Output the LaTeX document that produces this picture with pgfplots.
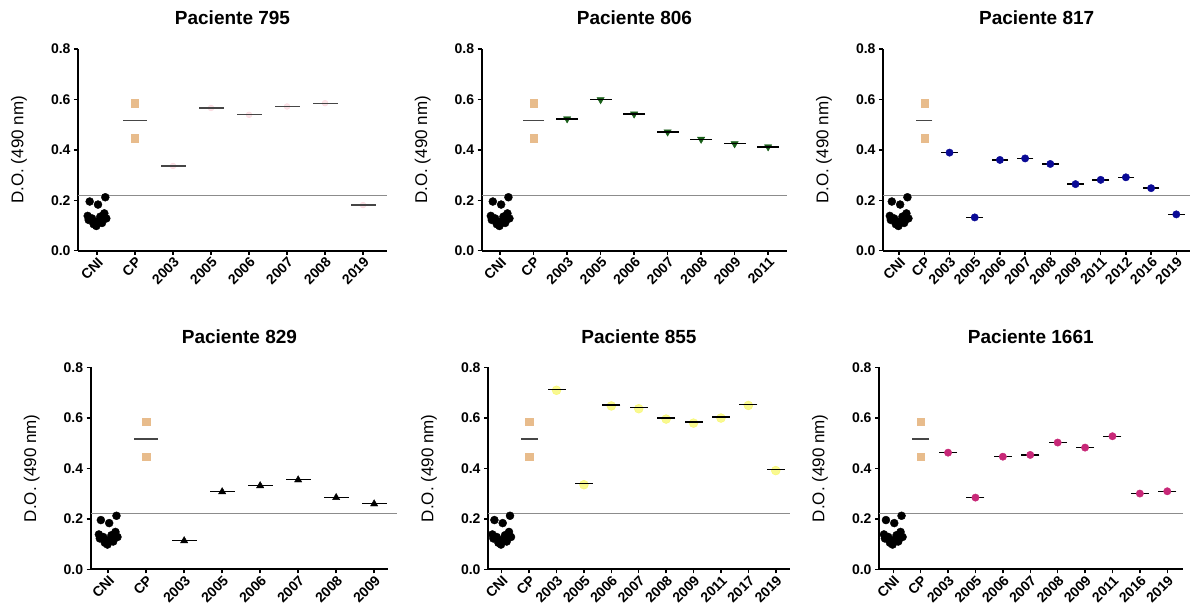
\documentclass[border=0pt]{standalone}
\usepackage{pgfplots}
\pgfplotsset{compat=1.18}
\usepackage{pgfplotstable}
\usepackage{fontspec}
\setmainfont{Liberation Sans}

\definecolor{cpcol}{RGB}{232,188,140}
\definecolor{grn}{RGB}{25,95,25}
\definecolor{navy}{RGB}{10,10,150}
\definecolor{mag}{RGB}{200,40,120}
\definecolor{yel}{RGB}{245,245,70}
\definecolor{pnk}{RGB}{245,165,180}
\definecolor{thr}{RGB}{140,140,140}
\definecolor{meangray}{RGB}{70,70,70}

% control groups, shared by all panels (dx in px from the CNI tick)
\pgfplotstableread{
dx y
-7.3 0.195
1.0 0.183
8.3 0.212
-9.3 0.138
7.3 0.148
-5.0 0.128
0.0 0.115
-0.7 0.098
-8.3 0.122
9.3 0.128
3.3 0.135
5.0 0.110
-3.3 0.105
}\cni
\pgfplotstableread{
x y
1 0.585
1 0.446
}\cp

% patients: x = category index
\pgfplotstableread{
x y
2 0.336
3 0.566
4 0.539
5 0.572
6 0.585
7 0.181
}\pA
\pgfplotstableread{
x y
2 0.523
3 0.599
4 0.542
5 0.471
6 0.442
7 0.424
8 0.412
}\pB
\pgfplotstableread{
x y
2 0.389
3 0.132
4 0.360
5 0.366
6 0.344
7 0.264
8 0.281
9 0.291
10 0.248
11 0.144
}\pC
\pgfplotstableread{
x y
2 0.113
3 0.307
4 0.331
5 0.354
6 0.284
7 0.259
}\pD
\pgfplotstableread{
x y
2 0.713
3 0.339
4 0.651
5 0.640
6 0.599
7 0.583
8 0.603
9 0.653
10 0.395
}\pE
\pgfplotstableread{
x y
2 0.462
3 0.284
4 0.446
5 0.453
6 0.502
7 0.482
8 0.527
9 0.300
10 0.309
}\pF

\pgfplotsset{
  panel/.style={
    scale only axis, anchor=south west,
    ymin=0, ymax=0.8, ytick={0,0.2,0.4,0.6,0.8},
    axis x line*=bottom, axis y line*=left,
    axis line style={line width=1.8pt},
    tick align=outside, major tick length=4pt,
    every tick/.style={line width=1.5pt, black},
    yticklabel style={font=\fontsize{14}{16}\selectfont\bfseries,
      /pgf/number format/.cd, fixed, fixed zerofill, precision=1, assume math mode=true},
    xticklabel style={font=\fontsize{14}{16}\selectfont\bfseries, rotate=45, anchor=north east, inner sep=1pt},
    every axis title/.style={font=\fontsize{19}{21}\selectfont\bfseries, at={(0.5,1)}, anchor=base, yshift=24pt},
    every axis y label/.style={at={(axis description cs:0,0.5)}, xshift=-59pt, rotate=90, anchor=center,
      font=\fontsize{17}{19}\selectfont},
    ylabel={D.O. (490 nm)},
    clip=false,
  },
  cnimark/.style={only marks, mark=*, mark size=4pt, color=black},
  cpmark/.style={only marks, mark=square*, mark size=3.6pt, color=cpcol},
  meanline/.style={only marks, mark=-, mark size=#1, mark options={line width=1.4pt}},
}

\begin{document}
\begin{tikzpicture}
\path[use as bounding box] (0,0) rectangle (1196pt,610pt);

% Paciente 795
\begin{axis}[panel, at={(78pt,359.3pt)}, width=309pt, height=201.7pt,
  xmin=-0.5, xmax=7.63, xtick={0,...,7},
  xticklabels={CNI,CP,2003,2005,2006,2007,2008,2019}, title={Paciente 795}]
\addplot[thr, line width=1pt] coordinates {(-0.5,0.22) (7.63,0.22)};
\addplot[cnimark] table[x expr=\thisrow{dx}/38, y=y] {\cni};
\addplot[cpmark] table {\cp};
\addplot[meanline=11.7pt, color=meangray] coordinates {(1,0.516)};
\addplot[only marks, mark=*, mark size=3pt, color=pnk, opacity=0.3] table {\pA};
\addplot[meanline=12.5pt, color=meangray] table {\pA};
\end{axis}

% Paciente 806
\begin{axis}[panel, at={(481.7pt,359.3pt)}, width=305.5pt, height=201.7pt,
  xmin=-0.55, xmax=8.57, xtick={0,...,8},
  xticklabels={CNI,CP,2003,2005,2006,2007,2008,2009,2011}, title={Paciente 806}]
\addplot[thr, line width=1pt] coordinates {(-0.55,0.22) (8.57,0.22)};
\addplot[cnimark] table[x expr=\thisrow{dx}/33.5, y=y] {\cni};
\addplot[cpmark] table {\cp};
\addplot[meanline=10.5pt, color=meangray] coordinates {(1,0.516)};
\addplot[only marks, mark=triangle*, mark size=4.2pt, color=grn, mark options={rotate=180}] table {\pB};
\addplot[meanline=11pt, color=black] table {\pB};
\end{axis}

% Paciente 817
\begin{axis}[panel, at={(883pt,359.3pt)}, width=307.4pt, height=201.7pt,
  xmin=-0.64, xmax=11.56, xtick={0,...,11},
  xticklabels={CNI,CP,2003,2005,2006,2007,2008,2009,2011,2012,2016,2019}, title={Paciente 817}]
\addplot[thr, line width=1pt] coordinates {(-0.64,0.22) (11.56,0.22)};
\addplot[cnimark] table[x expr=\thisrow{dx}/25.2, y=y] {\cni};
\addplot[cpmark] table {\cp};
\addplot[meanline=8pt, color=meangray] coordinates {(1,0.516)};
\addplot[meanline=8.3pt, color=black] table {\pC};
\addplot[only marks, mark=*, mark size=3.7pt, color=navy] table {\pC};
\end{axis}

% Paciente 829
\begin{axis}[panel, at={(90.7pt,40.7pt)}, width=297.5pt, height=202pt,
  xmin=-0.46, xmax=7.37, xtick={0,...,7},
  xticklabels={CNI,CP,2003,2005,2006,2007,2008,2009}, title={Paciente 829}]
\addplot[thr, line width=1pt] coordinates {(-0.46,0.22) (7.6,0.22)};
\addplot[cnimark] table[x expr=\thisrow{dx}/38, y=y] {\cni};
\addplot[cpmark] table {\cp};
\addplot[meanline=11.7pt, color=meangray] coordinates {(1,0.516)};
\addplot[meanline=12.5pt, color=black, mark options={line width=1.1pt}] table {\pD};
\addplot[only marks, mark=triangle*, mark size=4.2pt, color=black] table {\pD};
\end{axis}

% Paciente 855
\begin{axis}[panel, at={(488pt,40.7pt)}, width=302pt, height=202pt,
  xmin=-0.5, xmax=10.52, xtick={0,...,10},
  xticklabels={CNI,CP,2003,2005,2006,2007,2008,2009,2011,2017,2019}, title={Paciente 855}]
\addplot[thr, line width=1pt] coordinates {(-0.5,0.22) (10.52,0.22)};
\addplot[cnimark] table[x expr=\thisrow{dx}/27.4, y=y] {\cni};
\addplot[cpmark] table {\cp};
\addplot[meanline=8.5pt, color=meangray] coordinates {(1,0.516)};
\addplot[only marks, mark=*, mark size=4.5pt, color=yel, opacity=0.6] table[y expr=\thisrow{y}-0.004] {\pE};
\addplot[meanline=9pt, color=black] table {\pE};
\end{axis}

% Paciente 1661
\begin{axis}[panel, at={(879pt,40.7pt)}, width=303.6pt, height=202pt,
  xmin=-0.52, xmax=10.56, xtick={0,...,10},
  xticklabels={CNI,CP,2003,2005,2006,2007,2008,2009,2011,2016,2019}, title={Paciente 1661}]
\addplot[thr, line width=1pt] coordinates {(-0.52,0.22) (10.56,0.22)};
\addplot[cnimark] table[x expr=\thisrow{dx}/27.4, y=y] {\cni};
\addplot[cpmark] table {\cp};
\addplot[meanline=8.5pt, color=meangray] coordinates {(1,0.516)};
\addplot[meanline=9pt, color=black] table {\pF};
\addplot[only marks, mark=*, mark size=3.7pt, color=mag] table {\pF};
\end{axis}
\end{tikzpicture}
\end{document}
